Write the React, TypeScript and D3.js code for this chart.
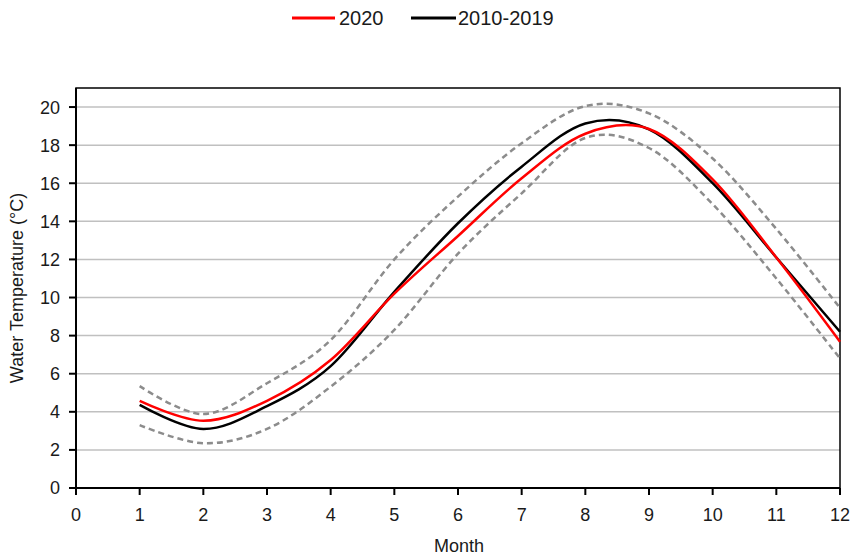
import React from "react";
import * as d3 from "d3";

// Monthly mean water temperature (°C)
const months = [1, 2, 3, 4, 5, 6, 7, 8, 9, 10, 11, 12];
const temp2020 = [4.57, 3.53, 4.58, 6.72, 10.2, 13.23, 16.26, 18.6, 18.85, 16.2, 12.1, 7.68];
const mean2010to2019 = [4.36, 3.1, 4.3, 6.4, 10.3, 13.9, 16.87, 19.14, 18.83, 16.0, 12.1, 8.2];
const upperBound = [5.35, 3.88, 5.5, 7.77, 12.0, 15.3, 18.1, 20.05, 19.67, 17.3, 13.6, 9.45];
const lowerBound = [3.3, 2.35, 3.1, 5.32, 8.3, 12.3, 15.47, 18.38, 17.85, 14.9, 11.0, 6.8];

const xTicks = [0, 1, 2, 3, 4, 5, 6, 7, 8, 9, 10, 11, 12];
const yTicks = [0, 2, 4, 6, 8, 10, 12, 14, 16, 18, 20];

const legendItems = [
  { label: "2020", color: "#ff0000" },
  { label: "2010-2019", color: "#000000" },
];

const W = 851;
const H = 556;
const left = 76;
const right = 840;
const top = 88;
const bottom = 488;
const font = "'Liberation Sans', Arial, sans-serif";
const textColor = "#1a1a1a";

export default function App() {
  const x = d3.scaleLinear().domain([0, 12]).range([left, right]);
  const y = d3.scaleLinear().domain([0, 21]).range([bottom, top]);

  const line = d3
    .line<number>()
    .x((_, i) => x(months[i]))
    .y((v) => y(v))
    .curve(d3.curveCatmullRom.alpha(0));

  return (
    <svg
      width={W}
      height={H}
      style={{ position: "absolute", left: 0, top: 0, background: "#fff" }}
      fontFamily={font}
    >
      {/* gridlines */}
      {yTicks.slice(1).map((t) => (
        <line key={t} x1={left} x2={right} y1={y(t)} y2={y(t)} stroke="#c0c0c0" strokeWidth={1.5} />
      ))}

      {/* plot frame */}
      <rect x={left} y={top} width={right - left} height={bottom - top} fill="none" stroke="#000" strokeWidth={1.5} />

      {/* y axis ticks and labels */}
      {yTicks.map((t) => (
        <g key={t}>
          <line x1={left - 7} x2={left} y1={y(t)} y2={y(t)} stroke="#000" strokeWidth={2} />
          <text x={60} y={y(t)} dy="0.36em" textAnchor="end" fontSize={18} fill={textColor}>
            {t}
          </text>
        </g>
      ))}

      {/* x axis ticks and labels */}
      {xTicks.map((t) => (
        <g key={t}>
          <line x1={x(t)} x2={x(t)} y1={bottom} y2={bottom + 7} stroke="#000" strokeWidth={2} />
          <text x={x(t)} y={521} textAnchor="middle" fontSize={18} fill={textColor}>
            {t}
          </text>
        </g>
      ))}
      <line x1={left} x2={left} y1={top} y2={bottom} stroke="#000" strokeWidth={2} />
      <line x1={left} x2={right} y1={bottom} y2={bottom} stroke="#000" strokeWidth={2} />

      {/* range bounds */}
      <path d={line(upperBound) ?? ""} fill="none" stroke="#8c8c8c" strokeWidth={2.5} strokeDasharray="6 4" />
      <path d={line(lowerBound) ?? ""} fill="none" stroke="#8c8c8c" strokeWidth={2.5} strokeDasharray="6 4" />

      {/* series */}
      <path d={line(mean2010to2019) ?? ""} fill="none" stroke="#000" strokeWidth={2.5} />
      <path d={line(temp2020) ?? ""} fill="none" stroke="#ff0000" strokeWidth={2.5} />

      {/* axis titles */}
      <text x={459} y={552} textAnchor="middle" fontSize={18} fill={textColor}>
        Month
      </text>
      <text
        transform={`translate(23, ${(top + bottom) / 2}) rotate(-90)`}
        textAnchor="middle"
        fontSize={18}
        fill={textColor}
      >
        Water Temperature (°C)
      </text>

      {/* legend */}
      <g>
        <line x1={292} x2={335} y1={18} y2={18} stroke={legendItems[0].color} strokeWidth={3} />
        <text x={339} y={18} dy="0.36em" fontSize={20} fill={textColor}>
          {legendItems[0].label}
        </text>
        <line x1={411} x2={456} y1={18} y2={18} stroke={legendItems[1].color} strokeWidth={3} />
        <text x={458} y={18} dy="0.36em" fontSize={20} fill={textColor}>
          {legendItems[1].label}
        </text>
      </g>
    </svg>
  );
}
